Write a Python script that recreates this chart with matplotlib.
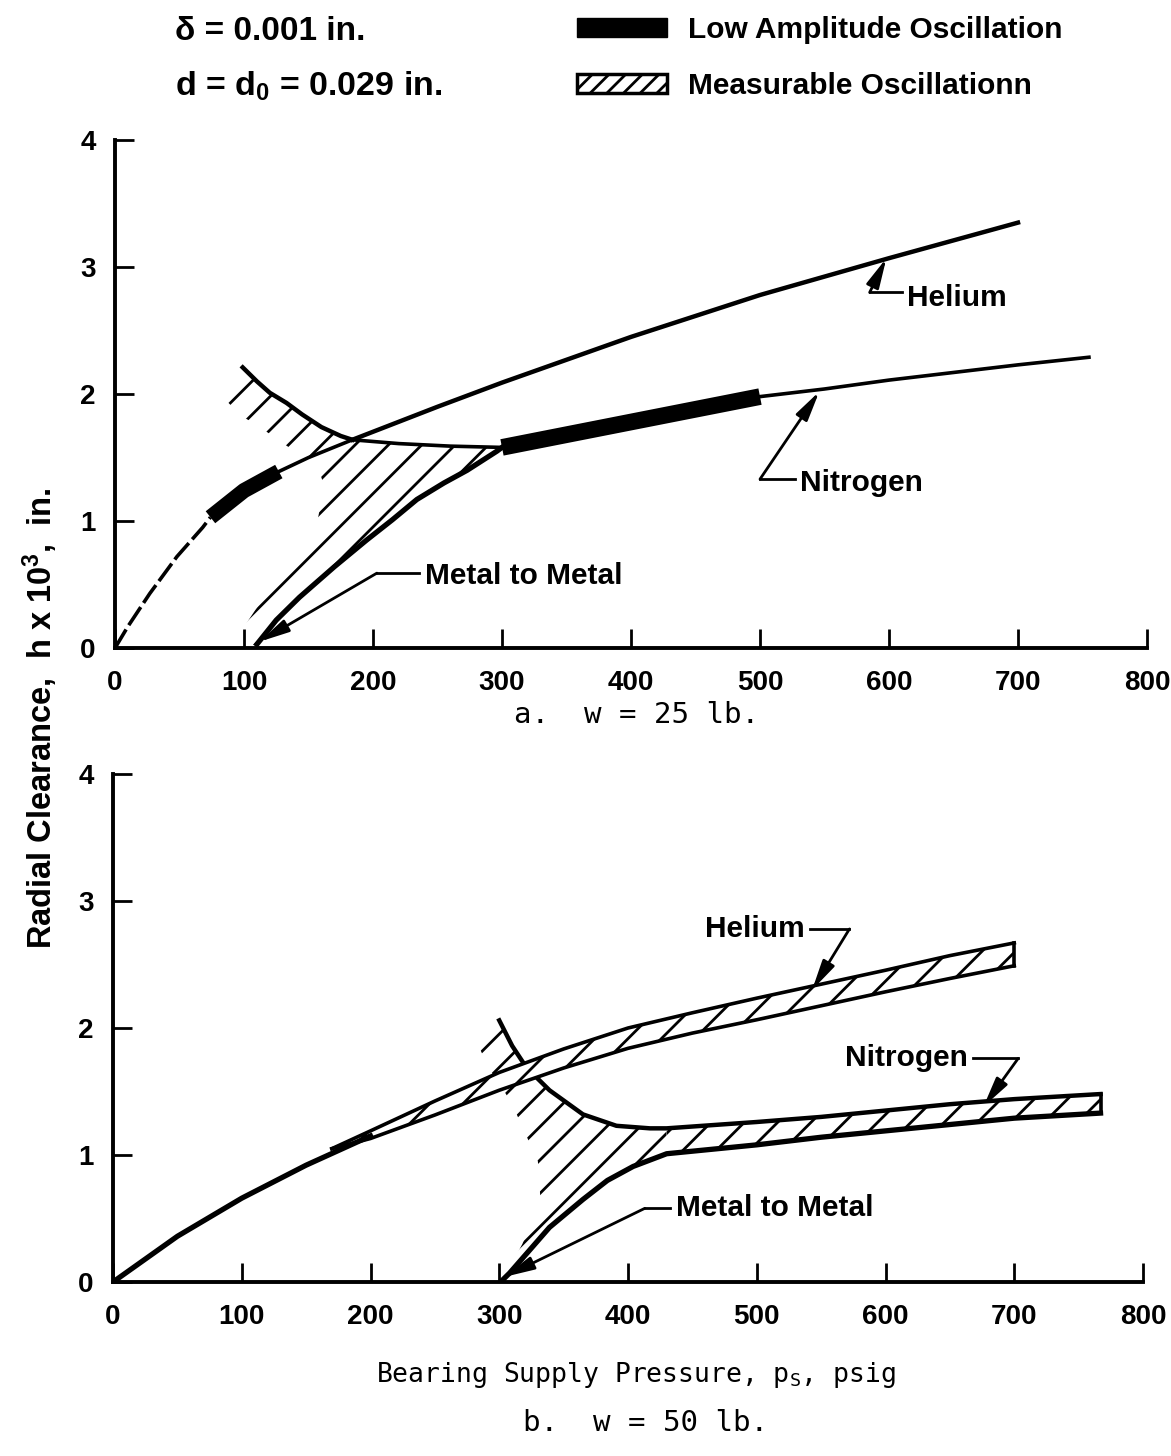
import numpy as np
import matplotlib
matplotlib.use("Agg")
import matplotlib.pyplot as plt
from matplotlib.patches import Patch

plt.rcParams["font.family"] = ["Liberation Sans", "DejaVu Sans"]
plt.rcParams["font.weight"] = "bold"
plt.rcParams["hatch.linewidth"] = 2.0
plt.rcParams["mathtext.default"] = "regular"

MONO = "DejaVu Sans Mono"
FS = 21.5

# ---- a. w = 25 lb ----
# low pressure curve shared by both gases
a_low_x = [0, 10, 27, 48, 68, 74, 100, 127, 150, 184]
a_low_y = [0, 0.17, 0.43, 0.72, 0.95, 1.03, 1.24, 1.39, 1.50, 1.64]
a_low_dash_end = 74
a_low_amp = (74, 127)

a_he_x = [184, 250, 300, 400, 500, 600, 700]
a_he_y = [1.64, 1.90, 2.09, 2.45, 2.78, 3.07, 3.35]

a_n2_x = [184, 220, 260, 300, 350, 400, 450, 500, 550, 600, 650, 700, 755]
a_n2_y = [1.64, 1.61, 1.59, 1.58, 1.68, 1.78, 1.88, 1.98, 2.04, 2.11, 2.17, 2.23, 2.29]
a_n2_amp = (300, 500)

# onset of oscillation
a_bnd_x = [99, 110, 120, 133, 145, 160, 175, 184]
a_bnd_y = [2.21, 2.10, 2.01, 1.93, 1.84, 1.74, 1.67, 1.64]

# metal to metal contact
a_mm_x = [110, 125, 143, 170, 195, 215, 234, 255, 273, 296, 300]
a_mm_y = [0.03, 0.22, 0.40, 0.64, 0.85, 1.01, 1.17, 1.30, 1.40, 1.55, 1.58]

# ragged lower-left edge of the hatched zone
a_edge_x = [80, 91, 101, 114, 126, 141, 156, 162, 157, 122, 89]
a_edge_y = [2.01, 1.90, 1.81, 1.73, 1.64, 1.54, 1.47, 1.28, 1.00, 0.50, 0.0]

# ---- b. w = 50 lb ----
b_low_x = [0, 50, 100, 150, 200]
b_low_y = [0, 0.36, 0.66, 0.92, 1.15]

b_he_x = [170, 200, 250, 300, 350, 400, 450, 500, 550, 600, 650, 700]
b_he_y = [1.05, 1.16, 1.37, 1.58, 1.76, 1.92, 2.04, 2.15, 2.26, 2.37, 2.48, 2.58]
b_he_hw = [0.0, 0.03, 0.055, 0.07, 0.075, 0.08, 0.08, 0.085, 0.085, 0.085, 0.09, 0.09]

b_bnd_x = [300, 310, 321, 339, 365, 391, 417, 430, 500, 550, 600, 650, 700, 767]
b_bnd_y = [2.06, 1.86, 1.69, 1.51, 1.32, 1.23, 1.21, 1.21, 1.26, 1.30, 1.35, 1.40, 1.44, 1.48]

b_mm_x = [303, 308, 339, 365, 384, 404, 430, 500, 550, 600, 650, 700, 767]
b_mm_y = [0.02, 0.07, 0.43, 0.65, 0.80, 0.91, 1.01, 1.08, 1.14, 1.19, 1.24, 1.29, 1.33]
b_band_start = 430

b_edge_x = [283, 292, 304, 310, 318, 330, 332, 318, 303]
b_edge_y = [1.88, 1.68, 1.50, 1.40, 1.22, 0.95, 0.65, 0.30, 0.02]

x_ticks = [0, 100, 200, 300, 400, 500, 600, 700, 800]
y_ticks = [0, 1, 2, 3, 4]

LW = 2.6


def style_axes(ax):
    ax.set_xlim(0, 800)
    ax.set_ylim(0, 4)
    for s in ("top", "right"):
        ax.spines[s].set_visible(False)
    for s in ("left", "bottom"):
        ax.spines[s].set_linewidth(2.8)
    ax.set_xticks(x_ticks)
    ax.set_yticks(y_ticks)
    ax.tick_params(direction="in", length=14, width=2.0, labelsize=20)
    ax.tick_params(axis="x", pad=16)
    ax.tick_params(axis="y", pad=14)
    for lab in ax.get_xticklabels() + ax.get_yticklabels():
        lab.set_fontweight("bold")


def leader(ax, text, text_xy, bend, tip, ha):
    ax.text(text_xy[0], text_xy[1], text, ha=ha, va="center", fontsize=FS,
            fontweight="bold")
    start_x = text_xy[0] - 4 if ha == "left" else text_xy[0] + 4
    ax.plot([start_x, bend[0]], [bend[1], bend[1]], color="k", lw=2.0)
    ax.annotate("", xy=tip, xytext=bend,
                arrowprops=dict(arrowstyle="-|>,head_length=0.9,head_width=0.2",
                                color="k", lw=2.0, mutation_scale=20,
                                shrinkA=0, shrinkB=0))


fig = plt.figure(figsize=(11.71, 14.56), dpi=100)

# ---------------- panel a ----------------
ax1 = fig.add_axes([0.0982, 0.5549, 0.8813, 0.3489])
style_axes(ax1)

lx = np.array(a_low_x)
ly = np.array(a_low_y)
m = lx <= a_low_dash_end
ax1.plot(lx[m], ly[m], color="k", lw=LW, dashes=(6, 1.4))
m = (lx >= a_low_amp[0]) & (lx <= a_low_amp[1])
ax1.plot(lx[m], ly[m], color="k", lw=11, solid_capstyle="butt")
m = lx >= a_low_amp[1]
ax1.plot(lx[m], ly[m], color="k", lw=LW)

ax1.plot(a_he_x, a_he_y, color="k", lw=LW + 0.6)

nx = np.array(a_n2_x)
ny = np.array(a_n2_y)
ax1.plot(nx, ny, color="k", lw=LW)
m = (nx >= a_n2_amp[0]) & (nx <= a_n2_amp[1])
ax1.plot(nx[m], ny[m], color="k", lw=12, solid_capstyle="butt")

ax1.plot(a_bnd_x, a_bnd_y, color="k", lw=LW + 0.6)
ax1.plot(a_mm_x, a_mm_y, color="k", lw=LW + 1.2)

# hatched zone of measurable oscillation
n2_flat = [(x, y) for x, y in zip(a_n2_x, a_n2_y) if x <= 300]
poly = ([(a_edge_x[-1], a_edge_y[-1])] + list(zip(a_mm_x, a_mm_y))
        + n2_flat[::-1] + list(zip(a_bnd_x, a_bnd_y))[::-1]
        + list(zip(a_edge_x, a_edge_y)))
px, py = zip(*poly)
ax1.fill(px, py, facecolor="none", edgecolor="k", hatch="/", lw=0, zorder=1)

leader(ax1, "Helium", (614, 2.76), (585, 2.80), (598, 3.07), "left")
leader(ax1, "Nitrogen", (531, 1.30), (500, 1.33), (546, 2.02), "left")
leader(ax1, "Metal to Metal", (240, 0.57), (203, 0.59), (112, 0.05), "left")

# ---------------- panel b ----------------
ax2 = fig.add_axes([0.0965, 0.1195, 0.8796, 0.3489])
style_axes(ax2)

ax2.plot(b_low_x, b_low_y, color="k", lw=LW + 1.2, zorder=4)

hx = np.array(b_he_x)
hy = np.array(b_he_y)
hw = np.array(b_he_hw)
ax2.fill_between(hx, hy - hw, hy + hw, facecolor="white", edgecolor="k",
                 hatch="/", lw=0, zorder=3)
ax2.plot(hx, hy + hw, color="k", lw=LW, zorder=4)
ax2.plot(hx, hy - hw, color="k", lw=LW, zorder=4)
ax2.plot([hx[-1], hx[-1]], [hy[-1] - hw[-1], hy[-1] + hw[-1]], color="k", lw=LW,
         zorder=4)

ax2.plot(b_bnd_x, b_bnd_y, color="k", lw=LW + 0.6, zorder=2)
ax2.plot(b_mm_x, b_mm_y, color="k", lw=LW + 1.2, zorder=2)

# nitrogen band
top = [(x, y) for x, y in zip(b_bnd_x, b_bnd_y) if x >= b_band_start]
bot = [(x, y) for x, y in zip(b_mm_x, b_mm_y) if x >= b_band_start]
px, py = zip(*(top + bot[::-1]))
ax2.fill(px, py, facecolor="white", edgecolor="k", hatch="/", lw=0, zorder=1.5)
ax2.plot([top[-1][0], bot[-1][0]], [top[-1][1], bot[-1][1]], color="k", lw=LW)

# hatched zone of measurable oscillation
mm_low = [(x, y) for x, y in zip(b_mm_x, b_mm_y) if x <= b_band_start]
bnd_low = [(x, y) for x, y in zip(b_bnd_x, b_bnd_y) if x <= b_band_start]
poly = mm_low + bnd_low[::-1] + list(zip(b_edge_x, b_edge_y))
px, py = zip(*poly)
ax2.fill(px, py, facecolor="none", edgecolor="k", hatch="/", lw=0, zorder=1)

leader(ax2, "Helium", (537, 2.78), (572, 2.78), (543, 2.30), "right")
leader(ax2, "Nitrogen", (664, 1.76), (703, 1.76), (676, 1.38), "right")
leader(ax2, "Metal to Metal", (437, 0.58), (413, 0.58), (304, 0.04), "left")

# ---------------- labels and header ----------------
fig.text(40 / 1171, 1 - 718 / 1456, "Radial Clearance,  h x 10$^3$,  in.",
         rotation=90, ha="center", va="center", fontsize=FS + 2,
         fontweight="bold")
fig.text(636 / 1171, 1 - 1375 / 1456, "Bearing Supply Pressure, p$_S$, psig",
         ha="center", va="center", fontsize=19, family=MONO, fontweight="normal")
fig.text(637 / 1171, 1 - 715 / 1456, "a.  w = 25 lb.", ha="center", va="center",
         fontsize=21, family=MONO, fontweight="normal")
fig.text(645 / 1171, 1 - 1423 / 1456, "b.  w = 50 lb.", ha="center", va="center",
         fontsize=21, family=MONO, fontweight="normal")

fig.text(175 / 1171, 1 - 31 / 1456, "δ = 0.001 in.", ha="left", va="center",
         fontsize=24, fontweight="bold")
fig.text(175 / 1171, 1 - 86 / 1456, "d = d$_0$ = 0.029 in.", ha="left",
         va="center", fontsize=24.5, fontweight="bold")

handles = [Patch(facecolor="k", edgecolor="k"),
           Patch(facecolor="white", edgecolor="k", hatch="//", lw=2.5)]
fig.legend(handles, ["Low Amplitude Oscillation", "Measurable Oscillationn"],
           loc="upper left", bbox_to_anchor=(577 / 1171, 1 - 16 / 1456),
           frameon=False, fontsize=FS, handlelength=3.0, handleheight=0.6,
           handletextpad=0.73, labelspacing=0.95, borderpad=0, borderaxespad=0)

fig.savefig("out.png", dpi=100)
